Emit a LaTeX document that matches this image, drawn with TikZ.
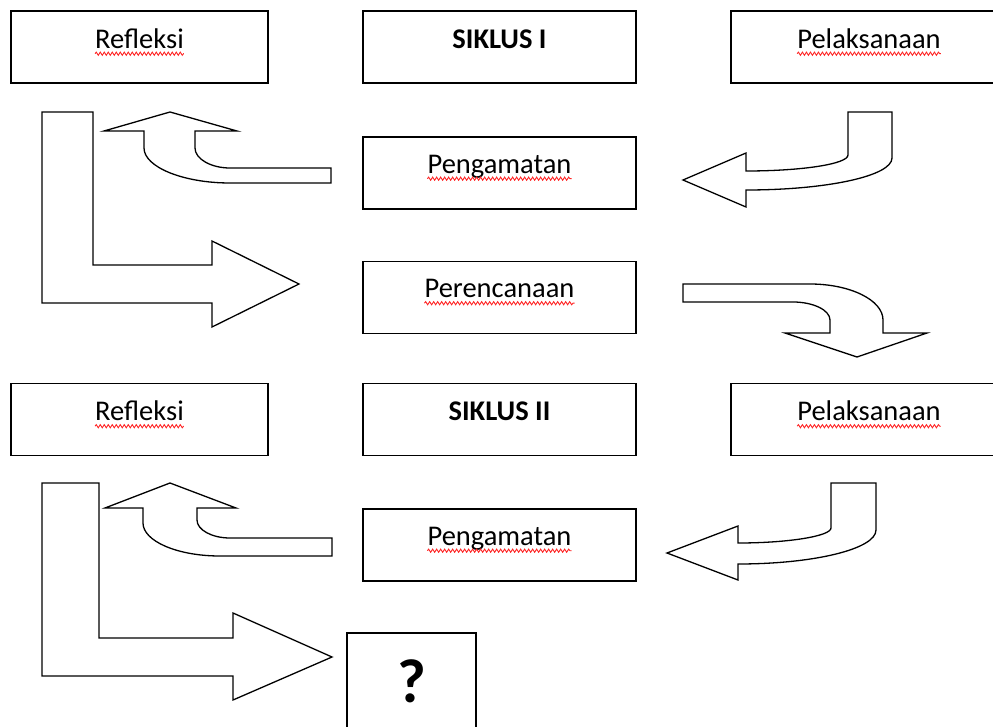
\documentclass[tikz,border=0pt]{standalone}
\usepackage{fontspec}
\setmainfont{Carlito}
\usepackage{tikz}
\usetikzlibrary{decorations.pathmorphing}
\tikzstyle{box} = [draw, line width=1.6pt, rectangle, inner sep=0pt,
    minimum width=273pt, minimum height=72pt]
\tikzstyle{sbox} = [box, minimum width=257pt]
\tikzstyle{word} = [inner sep=0pt, anchor=base, font=\fontsize{28.5}{34}\selectfont]
\tikzstyle{typo} = [draw=red!85, line width=0.9pt, decorate,
    decoration={snake, amplitude=1.6pt, segment length=4pt}]
\tikzstyle{blockarrow} = [draw, fill=white, line width=1.3pt, line join=miter]

\begin{document}
\begin{tikzpicture}[x=1pt, y=-1pt]
    \useasboundingbox (0,0) rectangle (993,727);
    \clip (0,0) rectangle (993,727);
    \node [sbox] (refA) at (139.5,47) {};
    \node [box] (siklusA) at (499.5,47) {};
    \node [box, minimum width=276pt] (pelA) at (869,47) {};
    \node [box] (pengA) at (499.5,173) {};
    \node [box] (renc) at (499.5,297.5) {};
    \node [sbox] (refB) at (139.5,419.5) {};
    \node [box] (siklusB) at (499.5,419.5) {};
    \node [box, minimum width=276pt] (pelB) at (869,419.5) {};
    \node [box] (pengB) at (499.5,545) {};
    \node [box, minimum width=129pt, minimum height=130pt] (quest) at (411.5,698) {};
    \node [word] (tRefA) at ([yshift=-38pt]refA.north) {Refleksi};
    \node [word] (tSikA) at ([yshift=-38pt]siklusA.north) {\bfseries SIKLUS I};
    \node [word] (tPelA) at ([yshift=-38pt]pelA.north) {Pelaksanaan};
    \node [word] (tPengA) at ([yshift=-37pt]pengA.north) {Pengamatan};
    \node [word] (tRenc) at ([yshift=-37pt]renc.north) {Perencanaan};
    \node [word] (tRefB) at ([yshift=-38pt]refB.north) {Refleksi};
    \node [word] (tSikB) at ([yshift=-38pt]siklusB.north) {\bfseries SIKLUS II};
    \node [word] (tPelB) at ([yshift=-38pt]pelB.north) {Pelaksanaan};
    \node [word] (tPengB) at ([yshift=-37pt]pengB.north) {Pengamatan};
    \node [word, font=\fontsize{62}{70}\selectfont\bfseries] (tQuest) at ([yshift=-70pt]quest.north) {?};
    \foreach \w in {tRefA,tPelA,tPengA,tRenc,tRefB,tPelB,tPengB}
        \draw [typo] ([yshift=-5.5pt]\w.base west) -- ([yshift=-5.5pt]\w.base east);
    % siklus I
    \draw [blockarrow] (42,112) -- (93,112) -- (93,265) -- (212,265) -- (212,241) -- (299,284)
        -- (212,327) -- (212,303) -- (42,303) -- cycle;
    \draw [blockarrow] (331,168) -- (230,168) .. controls (211,168) and (195,159) .. (195,148)
        -- (195,131) -- (237,131) -- (170,112) -- (104,131) -- (144,131) -- (144,148)
        .. controls (144,167) and (183,183) .. (230,183) -- (331,183) -- cycle;
    \draw [blockarrow] (848,112) -- (892,112) -- (892,158) .. controls (892,176) and (827,190) .. (746,190)
        -- (746,207) -- (683,180) -- (746,153) -- (746,171)
        .. controls (802,171) and (848,164) .. (848,155) -- cycle;
    \draw [blockarrow] (683,284) -- (810,284) .. controls (850,284) and (883,300) .. (883,320)
        -- (883,333) -- (927,333) -- (857,357) -- (785,333) -- (830,333) -- (830,320)
        .. controls (830,310) and (813,302) .. (793,302) -- (683,302) -- cycle;
    % siklus II
    \draw [blockarrow] (42,483) -- (99,483) -- (99,638) -- (233,638) -- (233,613) -- (332,657)
        -- (233,700) -- (233,676) -- (42,676) -- cycle;
    \draw [blockarrow] (332,538) -- (230,538) .. controls (212,538) and (197,530) .. (197,520)
        -- (197,508) -- (236,508) -- (170,483) -- (105,508) -- (143,508) -- (143,523)
        .. controls (143,541) and (177,556) .. (220,556) -- (332,556) -- cycle;
    \draw [blockarrow] (831,483) -- (876,483) -- (876,530) .. controls (876,549) and (814,564) .. (738,564)
        -- (738,580) -- (667,553) -- (738,526) -- (738,543)
        .. controls (789,543) and (831,536) .. (831,528) -- cycle;
\end{tikzpicture}
\end{document}
